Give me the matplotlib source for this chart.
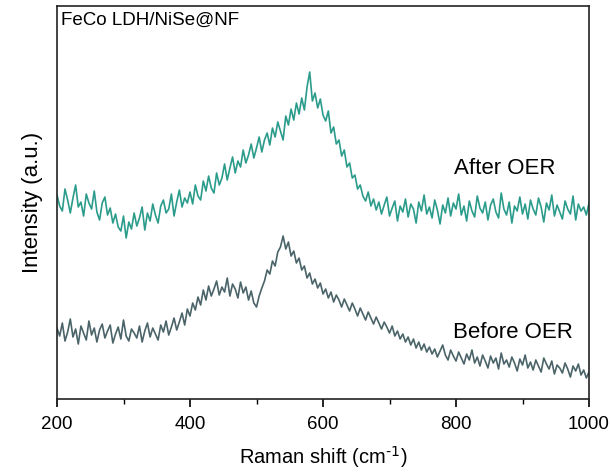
import numpy as np
import matplotlib
matplotlib.use("Agg")
import matplotlib.pyplot as plt
from matplotlib.ticker import MultipleLocator

plt.rcParams['font.family'] = ['Liberation Sans', 'DejaVu Sans']

raman_shift = list(range(200, 1001, 4))

after_oer = [
    204,193,188,210,199,186,201,214,192,197,
    183,205,196,190,208,187,179,196,202,184,
    191,176,185,172,168,183,161,177,170,186,
    173,181,192,169,186,178,195,184,176,193,
    199,186,190,205,183,197,209,192,201,196,
    207,195,214,203,199,218,208,223,211,206,
    226,214,221,235,219,231,242,226,238,232,
    249,236,244,255,241,251,262,247,259,266,
    254,271,262,277,268,259,283,274,290,279,
    296,285,301,289,312,327,298,306,291,300,
    284,278,288,266,272,255,259,243,249,232,
    236,221,224,210,214,203,198,207,193,200,
    189,197,185,194,202,183,191,198,178,193,
    187,200,182,195,190,176,197,188,204,185,
    192,181,199,189,175,194,186,201,183,196,
    190,205,184,193,178,198,188,182,203,191,
    186,197,179,194,200,187,181,206,190,184,
    197,176,193,188,202,185,195,180,199,190,
    184,201,192,177,196,189,204,183,194,187,
    180,198,190,185,203,179,195,188,192,184,
    196,
]

before_oer = [
    71,63,76,58,67,80,62,70,55,73,
    66,59,78,64,71,57,69,75,61,68,
    74,56,65,72,60,79,63,58,70,66,
    61,73,57,68,76,62,71,65,59,74,
    67,78,64,72,81,69,77,86,74,90,
    83,96,89,102,94,109,99,113,103,110,
    118,104,112,107,121,103,115,110,101,117,
    106,112,99,108,96,92,103,111,118,129,
    125,138,133,147,152,163,150,157,143,148,
    136,141,129,133,121,126,115,120,111,116,
    105,110,101,107,97,104,99,92,100,94,
    88,96,90,83,91,85,79,87,81,75,
    82,76,70,77,72,66,73,63,68,60,
    65,57,62,54,60,51,57,49,55,47,
    52,45,50,42,48,54,44,39,49,43,
    38,47,41,35,45,39,49,36,42,33,
    44,38,31,43,36,41,30,46,35,39,
    32,42,36,28,40,34,44,31,37,29,
    39,33,27,41,35,30,38,25,34,31,
    26,36,30,22,33,28,35,24,29,21,
    27,
]

series_labels = ["After OER", "Before OER"]
sample_label = "FeCo LDH/NiSe@NF"
x_ticks = [200, 400, 600, 800, 1000]

fig = plt.figure(figsize=(6.11, 4.73), dpi=100)
ax = fig.add_axes([0.0933, 0.1564, 0.8707, 0.8309])

ax.plot(raman_shift, after_oer, color='#2b9c8b', lw=1.2)
ax.plot(raman_shift, before_oer, color='#4b6469', lw=1.2)

ax.set_xlim(200, 1000)
ax.set_ylim(0, 393)
ax.set_xticks(x_ticks)
ax.xaxis.set_minor_locator(MultipleLocator(100))
ax.set_yticks([])
ax.tick_params(axis='x', which='major', direction='out', length=6, width=1.2, labelsize=13.5, pad=6)
ax.tick_params(axis='x', which='minor', direction='out', length=3.5, width=1.0)
for s in ax.spines.values():
    s.set_linewidth(1.2)
    s.set_color('#222222')

ax.set_xlabel('Raman shift (cm$^{\\text{-1}}$)', fontsize=14.5, labelpad=8)
ax.set_ylabel('Intensity (a.u.)', fontsize=16, labelpad=10)

ax.text(206, 379, sample_label, fontsize=13.5, va='center', ha='left')
ax.text(874, 231, series_labels[0], fontsize=16, ha='center', va='center')
ax.text(886, 67, series_labels[1], fontsize=16, ha='center', va='center')

fig.savefig('out.png', dpi=100)
